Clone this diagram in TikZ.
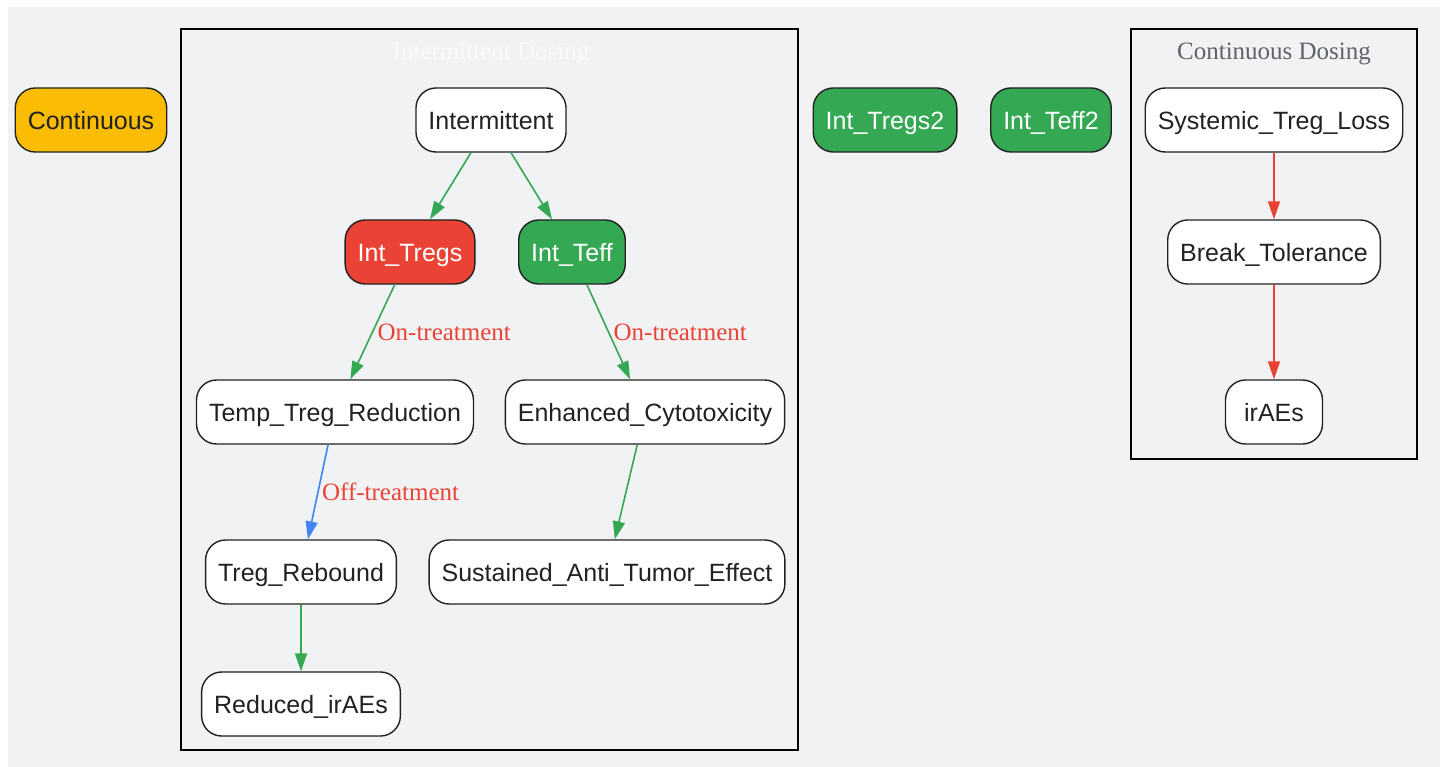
\documentclass[tikz,border=0pt]{standalone}
\usepackage{fontspec}
\setmainfont{Liberation Serif}
\setsansfont{Liberation Sans}
\usetikzlibrary{positioning,arrows.meta,fit}
\definecolor{bggray}{HTML}{F1F2F4}
\definecolor{gred}{HTML}{EA4335}
\definecolor{ggreen}{HTML}{34A853}
\definecolor{gblue}{HTML}{4285F4}
\definecolor{gyellow}{HTML}{FBBC04}
\definecolor{titlegray}{HTML}{5F6368}
\definecolor{ink}{HTML}{222222}
\begin{document}
\begin{tikzpicture}[x=1pt,y=-1pt,
    box/.style={draw=ink,line width=1.4pt,fill=white,rounded corners=20pt,minimum height=64pt,minimum width=97pt,
                inner xsep=12.5pt,text height=22pt,text depth=2.5pt,
                font=\sffamily\fontsize{25}{30}\selectfont,text=ink},
    redbox/.style={box,fill=gred,text=white},
    greenbox/.style={box,fill=ggreen,text=white},
    yellowbox/.style={box,fill=gyellow},
    cluster/.style={draw=black,line width=1.6pt},
    ctitle/.style={font=\fontsize{25}{30}\selectfont},
    elabel/.style={font=\fontsize{25}{30}\selectfont,text=gred},
    tip/.style={line width=1.6pt,-{Triangle[length=18pt,width=12pt]}}]
                                \useasboundingbox (0,0) rectangle (1447,767);
                                \fill[bggray] (8,7) rectangle (1440,767);

                                % clusters
                                \draw[cluster] (181,29) rectangle (798,750);
                                \node[ctitle,text=white!60!bggray] (tint) at (491,54) {Intermittent Dosing};
                                \draw[cluster] (1131,29) rectangle (1417,459);
                                \node[ctitle,text=titlegray] (tcont) at (1274,54) {Continuous Dosing};

                                \node[yellowbox] (cont) at (91,120) {Continuous};
                                \node[box] (inter) at (491,120) {Intermittent};
                                \node[redbox] (tregs) at (410,252) {Int\_Tregs};
                                \node[greenbox] (teff) at (572,252) {Int\_Teff};
                                \node[box] (red) at (335,412) {Temp\_Treg\_Reduction};
                                \node[box] (cyto) at (645,412) {Enhanced\_Cytotoxicity};
                                \node[box] (rebound) at (301,572) {Treg\_Rebound};
                                \node[box] (sust) at (607,572) {Sustained\_Anti\_Tumor\_Effect};
                                \node[box] (lowirae) at (301,704) {Reduced\_irAEs};

                                \node[greenbox] (tregs2) at (885,120) {Int\_Tregs2};
                                \node[greenbox] (teff2) at (1051,120) {Int\_Teff2};

                                \node[box] (loss) at (1274,120) {Systemic\_Treg\_Loss};
                                \node[box] (brk) at (1274,252) {Break\_Tolerance};
                                \node[box] (irae) at (1274,412) {irAEs};

                                \draw[tip,ggreen] (inter) -- (tregs);
                                \draw[tip,ggreen] (inter) -- (teff);
                                \draw[tip,ggreen] (tregs) -- node[elabel,right=1pt] {On-treatment} (red);
                                \draw[tip,ggreen] (teff) -- node[elabel,right=1pt] {On-treatment} (cyto);
                                \draw[tip,gblue] (red) -- node[elabel,right=0pt] {Off-treatment} (rebound);
                                \draw[tip,ggreen] (cyto) -- (sust);
                                \draw[tip,ggreen] (rebound) -- (lowirae);
                                \draw[tip,gred] (loss) -- (brk);
                                \draw[tip,gred] (brk) -- (irae);
                            \end{tikzpicture}
\end{document}
